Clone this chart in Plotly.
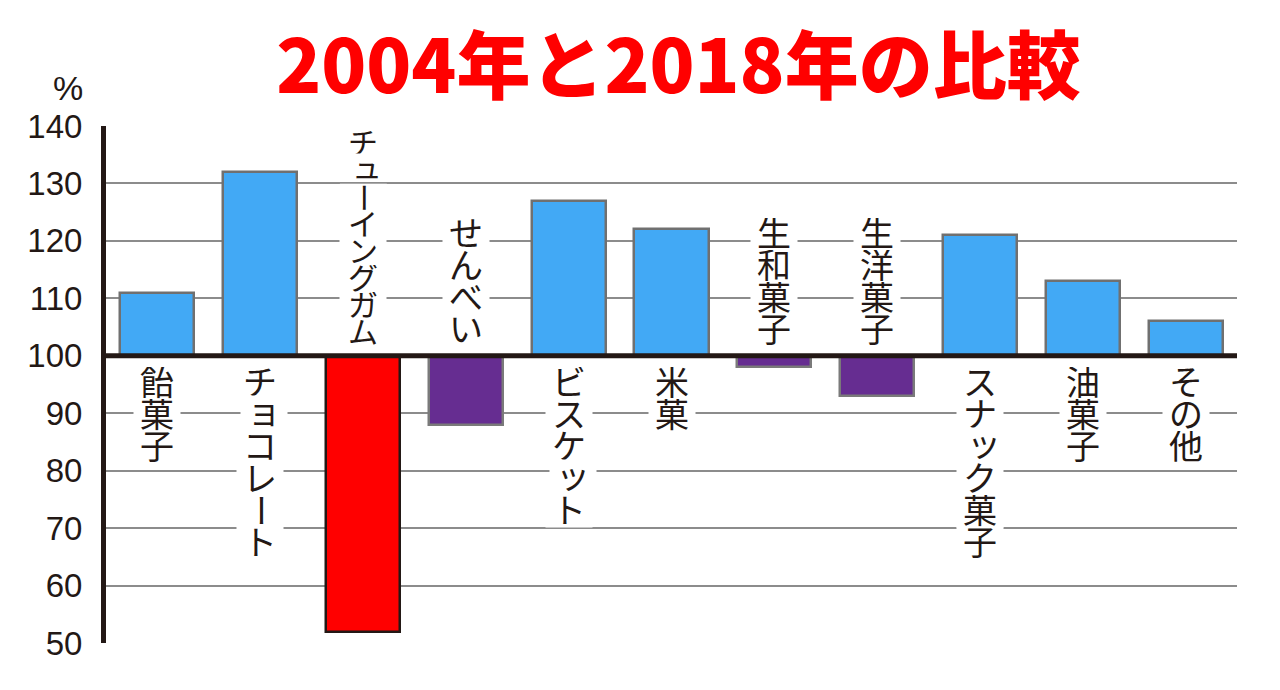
import plotly.graph_objects as go

# ---- data ----
categories = ["飴菓子", "チョコレート", "チューイングガム", "せんべい", "ビスケット", "米菓",
              "生和菓子", "生洋菓子", "スナック菓子", "油菓子", "その他"]
values_2018_vs_2004 = [111, 132, 52, 88, 127, 122, 98, 93, 121, 113, 106]
y_ticks = [50, 60, 70, 80, 90, 100, 110, 120, 130, 140]
title_text = "2004年と2018年の比較"
unit_text = "%"
BASE = 100

# ---- styles ----
BLUE = "#42A9F5"
PURPLE = "#662D91"
RED = "#FF0000"
DARK = "#231815"
GRID = "#8C8C8C"
LABEL_FONT = "Liberation Sans, Noto Sans CJK JP, sans-serif"

vmin = min(values_2018_vs_2004)
fill_colors, line_colors = [], []
for v in values_2018_vs_2004:
    if v == vmin:
        fill_colors.append(RED); line_colors.append(DARK)
    elif v < BASE:
        fill_colors.append(PURPLE); line_colors.append("#7A7A7A")
    else:
        fill_colors.append(BLUE); line_colors.append("#707070")

fig = go.Figure()
fig.add_trace(go.Bar(
    x=categories,
    y=[v - BASE for v in values_2018_vs_2004],
    base=BASE,
    width=0.72,
    marker=dict(color=fill_colors, line=dict(color=line_colors, width=2.5)),
    hoverinfo="skip",
))

# baseline at 100
fig.add_shape(type="line", xref="paper", x0=0, x1=1, yref="y", y0=BASE, y1=BASE,
              line=dict(color=DARK, width=5), layer="above")

# vertical category labels (vertical writing: one character per annotation)
SMALL = set("ァィゥェォャュョッ")
annotations = []
for cat, v in zip(categories, values_2018_vs_2004):
    n = len(cat)
    pitch = 32 if n <= 6 else 27
    fsize = 34 if n <= 6 else 30
    for i, c in enumerate(cat):
        if v >= BASE:
            off = -(11 + pitch * (i + 0.5))
        else:
            off = 10 + pitch * (n - i - 0.5)
        xs, ys = 0, 0
        if c in SMALL:
            xs, ys = 4, 3
        rot = (c == "ー")
        annotations.append(dict(
            x=cat, xref="x", y=BASE, yref="y", yshift=off + ys, xshift=xs,
            text=c, showarrow=False, xanchor="center", yanchor="middle",
            textangle=90 if rot else 0,
            width=pitch if rot else 46, height=46 if rot else pitch,
            bgcolor="white", borderpad=0,
            font=dict(family=LABEL_FONT, size=fsize, color=DARK),
        ))

annotations.append(dict(
    x=0, xref="paper", xshift=-38, y=1, yref="paper", yshift=38,
    text=unit_text, showarrow=False, xanchor="center", yanchor="middle",
    font=dict(family="Liberation Sans, sans-serif", size=34, color=DARK),
))

fig.update_layout(
    width=1280, height=690,
    margin=dict(l=106, r=43, t=126, b=47),
    paper_bgcolor="white", plot_bgcolor="white",
    showlegend=False,
    bargap=0,
    title=dict(
        text=title_text, x=0.53, xanchor="center", y=1 - 67 / 690, yanchor="middle",
        xref="container", yref="container",
        font=dict(family="Noto Sans CJK JP", size=74, color=RED, weight=900),
    ),
    xaxis=dict(range=[-0.5, len(categories) - 0.5], showticklabels=False,
               showgrid=False, zeroline=False, showline=False, fixedrange=True),
    yaxis=dict(range=[50, 140], tickvals=y_ticks, ticktext=[str(t) for t in y_ticks],
               showgrid=True, gridcolor=GRID, gridwidth=2, zeroline=False,
               showline=True, linecolor=DARK, linewidth=5, ticks="",
               ticklabelstandoff=12,
               tickfont=dict(family="Liberation Sans, Noto Sans CJK JP, sans-serif",
                             size=33, color=DARK),
               fixedrange=True),
    annotations=annotations,
)

fig.write_html("out.html")
